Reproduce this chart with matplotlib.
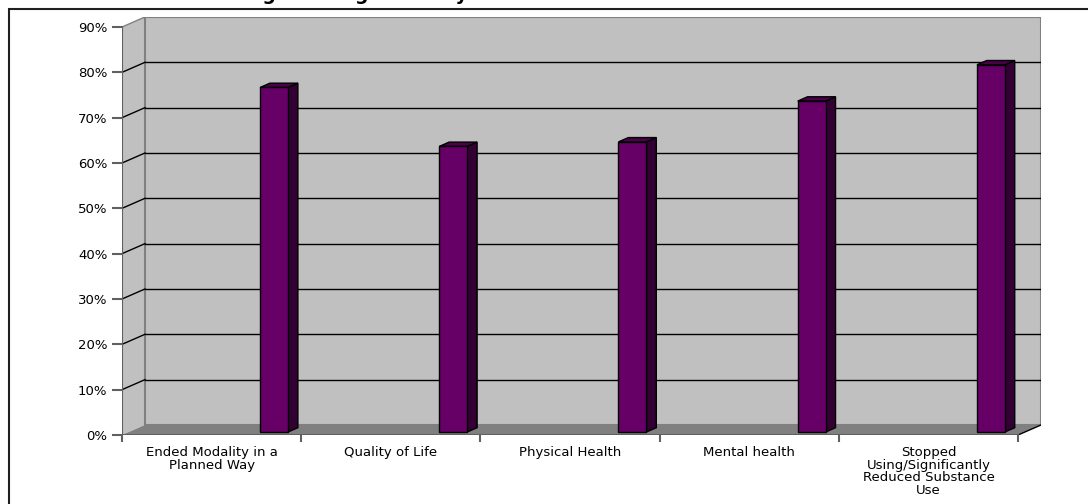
import matplotlib.pyplot as plt
from matplotlib.patches import Polygon, Rectangle

categories = ["Ended Modality in a\nPlanned Way", "Quality of Life", "Physical Health",
              "Mental health", "Stopped\nUsing/Significantly\nReduced Substance\nUse"]
values = [76, 63, 64, 73, 81]
yticks = [0, 10, 20, 30, 40, 50, 60, 70, 80, 90]
title = "Treatment Programs Significantly Above Baseline"

# 3d look, Excel style
dx, dy = 0.128, 2.21      # depth offset (category units, percent units)
f0, f1 = 0.30, 0.73       # bar depth band
bar_off, bar_w = 0.732, 0.156
front_col, side_col, top_col = "#660066", "#330033", "#4a004a"
wall_col, floor_col, axis_col = "#C0C0C0", "#808080", "#606060"
font = "DejaVu Sans"

fig = plt.figure(figsize=(10.88, 5.04), dpi=100)
fig.patch.set_facecolor("white")

# outer frame, partly off the page like the source
fig.add_artist(Rectangle((9/1088, -0.05), 1.2, 1 - 9/504 + 0.05, transform=fig.transFigure,
                         fill=False, edgecolor="#202020", lw=1.5))
# title is cut off at the top in the source too
fig.text(111/1088, 1.0, title, fontsize=13.5, fontweight="bold", family=font,
         ha="left", va="baseline")

ax = fig.add_axes([122/1088, (504-435)/504, (1041-122)/1088, (435-17)/504])
ax.set_xlim(0, 5 + dx)
ax.set_ylim(0, 90 + dy)
ax.patch.set_alpha(0)
for s in ax.spines.values():
    s.set_visible(False)

n = len(categories)
top = yticks[-1]

# walls and floor
ax.add_patch(Polygon([(0, 0), (dx, dy), (dx, top + dy), (0, top)], closed=True,
                     facecolor=wall_col, edgecolor="none", zorder=1))
ax.add_patch(Rectangle((dx, dy), n, top, facecolor=wall_col, edgecolor=floor_col, lw=1.5, zorder=1))
ax.add_patch(Polygon([(0, 0), (n, 0), (n + dx, dy), (dx, dy)], closed=True,
                     facecolor=floor_col, edgecolor="none", zorder=1))
ax.plot([n, n + dx], [0, dy], color="black", lw=1, zorder=2)
ax.plot([0, dx], [top, top + dy], color=floor_col, lw=1, zorder=2)

for v in yticks[1:-1]:
    ax.plot([dx, n + dx], [v + dy, v + dy], color="black", lw=1, zorder=2)
    ax.plot([0, dx], [v, v + dy], color="black", lw=1, zorder=2)

# axis lines
ax.plot([0, 0], [0, top], color=axis_col, lw=1.5, zorder=3)
ax.plot([0, n], [0, 0], color=axis_col, lw=1.5, zorder=3)

# bars
for i, v in enumerate(values):
    x0 = i + bar_off
    x1 = x0 + bar_w
    ax.add_patch(Polygon([(x1 + f0*dx, f0*dy), (x1 + f1*dx, f1*dy), (x1 + f1*dx, v + f1*dy),
                          (x1 + f0*dx, v + f0*dy)], closed=True,
                         facecolor=side_col, edgecolor="black", lw=1, zorder=4))
    ax.add_patch(Polygon([(x0 + f0*dx, v + f0*dy), (x1 + f0*dx, v + f0*dy),
                          (x1 + f1*dx, v + f1*dy), (x0 + f1*dx, v + f1*dy)], closed=True,
                         facecolor=top_col, edgecolor="black", lw=1, zorder=4))
    ax.add_patch(Rectangle((x0 + f0*dx, f0*dy), bar_w, v, facecolor=front_col,
                           edgecolor="black", lw=1, zorder=5))

# ticks
ax.set_yticks(yticks, [f"{v}%" for v in yticks])
ax.tick_params(axis="y", direction="out", length=7.5, width=1.5, color=axis_col,
               pad=3, labelsize=9.5)
ax.set_xticks([i + 0.5 for i in range(n)], categories)
ax.set_xticks(range(n + 1), minor=True)
ax.tick_params(axis="x", which="major", length=0, pad=8, labelsize=9.5)
ax.tick_params(axis="x", which="minor", direction="out", length=5, width=1.5, color=axis_col)
for lab in ax.get_xticklabels() + ax.get_yticklabels():
    lab.set_family(font)
for lab in ax.get_xticklabels():
    lab.set_linespacing(0.95)
    lab.set_verticalalignment("top")

fig.savefig("out.png", dpi=100)
